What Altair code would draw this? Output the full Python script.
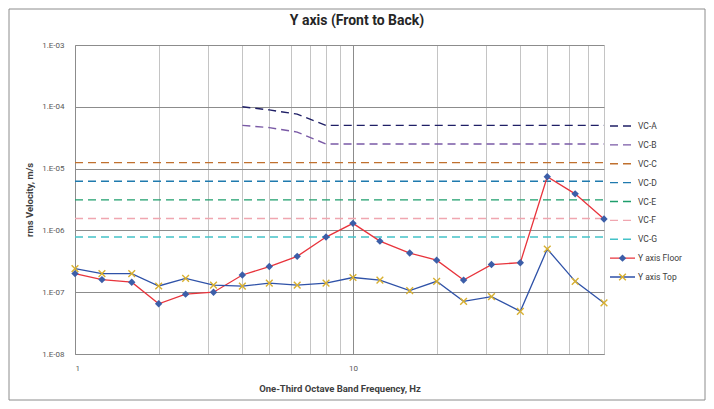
import altair as alt
import pandas as pd

FONT = "Roboto"

title_text = "Y axis (Front to Back)"

freqs = [1, 1.25, 1.6, 2, 2.5, 3.15, 4, 5, 6.3, 8, 10, 12.5, 16, 20, 25, 31.5, 40, 50, 63, 80]
floor = [2.0e-7, 1.6e-7, 1.45e-7, 6.5e-8, 9.3e-8, 1.0e-7, 1.9e-7, 2.6e-7, 3.8e-7, 7.8e-7,
         1.3e-6, 6.7e-7, 4.3e-7, 3.3e-7, 1.57e-7, 2.8e-7, 3.0e-7, 7.4e-6, 3.9e-6, 1.53e-6]
top = [2.4e-7, 2.0e-7, 2.0e-7, 1.26e-7, 1.67e-7, 1.3e-7, 1.25e-7, 1.4e-7, 1.3e-7, 1.4e-7,
       1.73e-7, 1.57e-7, 1.06e-7, 1.5e-7, 7.1e-8, 8.5e-8, 4.9e-8, 5.0e-7, 1.5e-7, 6.7e-8]

vc_ab_freqs = [4, 5, 6.3, 8, 10, 12.5, 16, 20, 25, 31.5, 40, 50, 63, 80]
vc_a = [1.0e-4, 8.9e-5, 7.6e-5, 5.0e-5, 5.0e-5, 5.0e-5, 5.0e-5, 5.0e-5, 5.0e-5, 5.0e-5, 5.0e-5, 5.0e-5, 5.0e-5, 5.0e-5]
vc_b = [5.0e-5, 4.6e-5, 3.9e-5, 2.5e-5, 2.5e-5, 2.5e-5, 2.5e-5, 2.5e-5, 2.5e-5, 2.5e-5, 2.5e-5, 2.5e-5, 2.5e-5, 2.5e-5]
vc_flat_names = ["VC-C", "VC-D", "VC-E", "VC-F", "VC-G"]
vc_flat_levels = [1.25e-5, 6.25e-6, 3.12e-6, 1.56e-6, 7.8e-7]
vc_flat_freqs = [1, 80]

names = ["VC-A", "VC-B", "VC-C", "VC-D", "VC-E", "VC-F", "VC-G", "Y axis Floor", "Y axis Top"]
colors = ["#1F1F66", "#7A5AA6", "#C0702E", "#1F7AAE", "#1E9E6C", "#F0A6B0", "#44C2C8", "#E8343C", "#2F52A8"]
dashes = [[8, 5]] * 7 + [[1, 0]] * 2

x_grid = [1, 2, 3, 4, 5, 6, 7, 8, 9, 10, 20, 30, 40, 50, 60, 70, 80]
y_ticks = [1e-8, 1e-7, 1e-6, 1e-5, 1e-4, 1e-3]

# ---- tables ----
rows = []
for f, v in zip(vc_ab_freqs, vc_a):
    rows.append({"series": "VC-A", "freq": f, "value": v})
for f, v in zip(vc_ab_freqs, vc_b):
    rows.append({"series": "VC-B", "freq": f, "value": v})
for n, lv in zip(vc_flat_names, vc_flat_levels):
    for f in vc_flat_freqs:
        rows.append({"series": n, "freq": f, "value": lv})
df_vc = pd.DataFrame(rows)
df_floor = pd.DataFrame({"freq": freqs, "value": floor})
df_top = pd.DataFrame({"freq": freqs, "value": top})
df_leg = pd.DataFrame({"series": names})

color_scale = alt.Scale(domain=names, range=colors)
dash_scale = alt.Scale(domain=names, range=dashes)

X = alt.X(
    "freq:Q",
    scale=alt.Scale(type="log", domain=[1, 80], nice=False),
    axis=alt.Axis(
        values=x_grid,
        labelExpr="(datum.value == 1 || datum.value == 10) ? datum.label : ''",
        format="d",
        grid=True,
        gridColor={"condition": {"test": "datum.value == 10 || datum.value == 1", "value": "#8C8C8C"}, "value": "#C4C4C4"},
        gridWidth=1,
        ticks=False,
        domainColor="#8C8C8C",
        labelPadding=10,
        labelFontSize=8,
        labelColor="#595959",
        labelFont=FONT,
        title="One-Third Octave Band Frequency, Hz",
        titleFont=FONT,
        titleFontSize=9.5,
        titleFontWeight="bold",
        titleColor="#404040",
        titlePadding=11,
    ),
)
Y = alt.Y(
    "value:Q",
    scale=alt.Scale(type="log", domain=[1e-8, 1e-3], nice=False),
    axis=alt.Axis(
        values=y_ticks,
        labelExpr="'1.E-0' + format(-log(datum.value) / LN10, '.0f')",
        grid=True,
        gridColor="#8C8C8C",
        gridWidth=1,
        ticks=False,
        domainColor="#8C8C8C",
        labelPadding=11,
        labelFontSize=8,
        labelColor="#595959",
        labelFont=FONT,
        title="rms Velocity, m/s",
        titleFont=FONT,
        titleFontSize=9.5,
        titleFontWeight="bold",
        titleColor="#404040",
        titlePadding=7,
    ),
)

vc_lines = alt.Chart(df_vc).mark_line(strokeWidth=1.4).encode(
    x=X, y=Y,
    color=alt.Color("series:N", scale=color_scale, legend=None),
    strokeDash=alt.StrokeDash("series:N", scale=dash_scale, legend=None),
)
floor_line = alt.Chart(df_floor).mark_line(color="#E8343C", strokeWidth=1.3).encode(x=X, y=Y)
floor_pts = alt.Chart(df_floor).mark_point(shape="diamond", filled=True, color="#3C5EA8", size=55, opacity=1).encode(x=X, y=Y)
top_line = alt.Chart(df_top).mark_line(color="#2F52A8", strokeWidth=1.3).encode(x=X, y=Y)
top_pts = alt.Chart(df_top).mark_point(shape="M-1,-1L1,1M1,-1L-1,1", filled=False, color="#D8B030",
                                       size=45, strokeWidth=1.4, opacity=1).encode(x=X, y=Y)

main = alt.layer(vc_lines, floor_line, floor_pts, top_line, top_pts)

LY = alt.Y("series:N", scale=alt.Scale(type="point", domain=names, range=[81, 232], padding=0), axis=None)
leg_base = alt.Chart(df_leg)
leg_rule = leg_base.mark_rule(strokeWidth=1.4).encode(
    x=alt.value(535), x2=alt.value(560), y=LY,
    color=alt.Color("series:N", scale=color_scale, legend=None),
    strokeDash=alt.StrokeDash("series:N", scale=dash_scale, legend=None),
)
leg_floor = leg_base.transform_filter("datum.series == 'Y axis Floor'").mark_point(
    shape="diamond", filled=True, color="#3C5EA8", size=55, opacity=1).encode(x=alt.value(547.5), y=LY)
leg_top = leg_base.transform_filter("datum.series == 'Y axis Top'").mark_point(
    shape="M-1,-1L1,1M1,-1L-1,1", filled=False, color="#D8B030", size=45, strokeWidth=1.4, opacity=1
).encode(x=alt.value(547.5), y=LY)
leg_text = leg_base.mark_text(align="left", baseline="middle", fontSize=8.5, font=FONT, color="#404040").encode(
    x=alt.value(563), y=LY, text="series:N")
legend = alt.layer(leg_rule, leg_floor, leg_top, leg_text)

one = pd.DataFrame({"a": [0]})
frame = alt.Chart(one).mark_rect(fill="transparent", stroke="#8C8C8C", strokeWidth=1).encode(
    x=alt.value(-66), y=alt.value(-36), x2=alt.value(630), y2=alt.value(355))
title = alt.Chart(one).mark_text(font=FONT, fontSize=14, fontWeight="bold", color="#262626",
                                 align="center", baseline="middle").encode(
    x=alt.value(282), y=alt.value(-24), text=alt.value(title_text))

chart = alt.layer(frame, title, main, legend).resolve_scale(y="independent").properties(
    width=529,
    height=309,
    autosize=alt.AutoSizeParams(type="none"),
    padding={"left": 67, "top": 37, "right": 102, "bottom": 47},
).configure_view(stroke=None)

chart.save("out.html", embed_options={"renderer": "svg", "actions": False})
